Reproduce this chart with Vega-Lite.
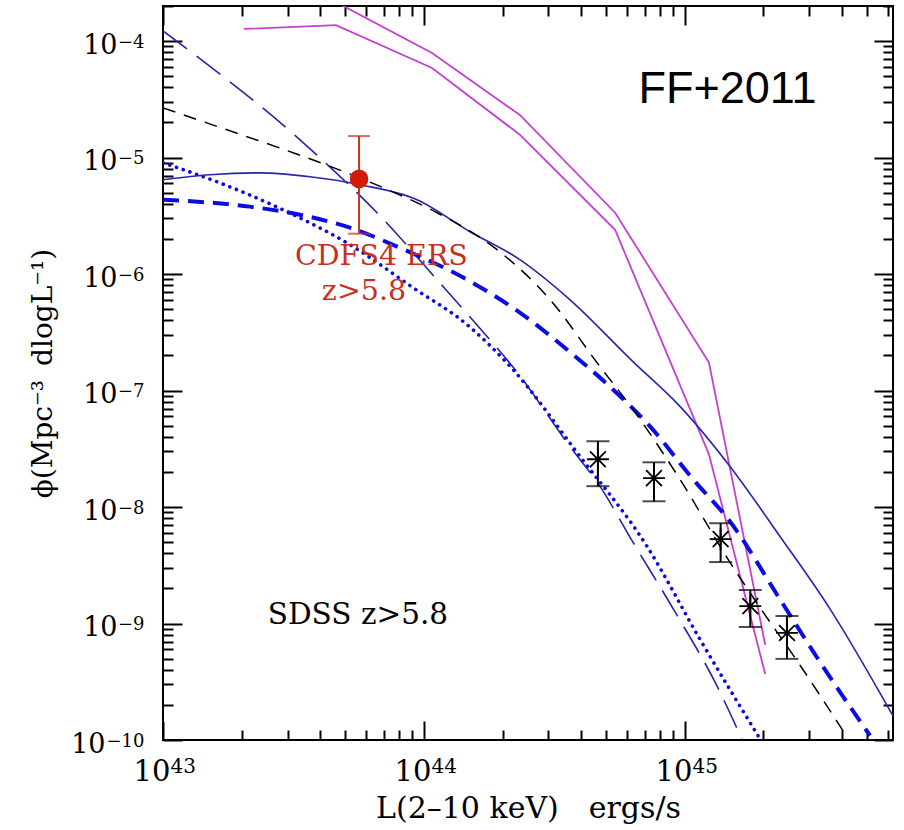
{
  "$schema": "https://vega.github.io/schema/vega-lite/v6.json",
  "width": 730,
  "height": 734,
  "autosize": {"type": "none"},
  "padding": {"left": 163, "top": 6, "right": 11, "bottom": 90},
  "background": "white",
  "config": {
    "view": {"stroke": "black", "strokeWidth": 2},
    "axis": {
      "domain": false,
      "grid": false,
      "labelFont": "DejaVu Serif",
      "labelColor": "black",
      "titleFont": "DejaVu Serif",
      "titleFontSize": 28,
      "titleFontWeight": "normal",
      "titleColor": "black",
      "tickColor": "black",
      "tickWidth": 2,
      "labelOverlap": false,
      "labelFlush": false,
      "labelBound": false
    }
  },
  "datasets": {
    "curves": [
      {"s": "mag1", "L": 4.60e43, "phi": 2.16e-4},
      {"s": "mag1", "L": 1.074e44, "phi": 7.89e-5},
      {"s": "mag1", "L": 2.33e44, "phi": 2.32e-5},
      {"s": "mag1", "L": 5.40e44, "phi": 3.36e-6},
      {"s": "mag1", "L": 1.236e45, "phi": 1.74e-7},
      {"s": "mag1", "L": 2.03e45, "phi": 6.55e-10},

      {"s": "mag2", "L": 2.04e43, "phi": 1.27e-4},
      {"s": "mag2", "L": 4.60e43, "phi": 1.37e-4},
      {"s": "mag2", "L": 1.074e44, "phi": 5.88e-5},
      {"s": "mag2", "L": 2.33e44, "phi": 1.57e-5},
      {"s": "mag2", "L": 5.40e44, "phi": 2.40e-6},
      {"s": "mag2", "L": 1.236e45, "phi": 2.83e-8},
      {"s": "mag2", "L": 2.03e45, "phi": 3.69e-10},

      {"s": "longdash", "L": 1.0e43, "phi": 1.22e-4},
      {"s": "longdash", "L": 3.35e43, "phi": 1.42e-5},
      {"s": "longdash", "L": 4.48e43, "phi": 7.85e-6},
      {"s": "longdash", "L": 6.61e43, "phi": 3.36e-6},
      {"s": "longdash", "L": 1.122e44, "phi": 8.95e-7},
      {"s": "longdash", "L": 1.758e44, "phi": 2.85e-7},
      {"s": "longdash", "L": 2.23e44, "phi": 1.52e-7},
      {"s": "longdash", "L": 3.62e44, "phi": 3.32e-8},
      {"s": "longdash", "L": 4.72e44, "phi": 1.51e-8},
      {"s": "longdash", "L": 6.32e44, "phi": 4.99e-9},
      {"s": "longdash", "L": 9.16e44, "phi": 1.26e-9},
      {"s": "longdash", "L": 1.327e45, "phi": 2.91e-10},
      {"s": "longdash", "L": 1.652e45, "phi": 1.02e-10},

      {"s": "dotted", "L": 1.0e43, "phi": 9.02e-6},
      {"s": "dotted", "L": 1.61e43, "phi": 6.19e-6},
      {"s": "dotted", "L": 2.88e43, "phi": 3.56e-6},
      {"s": "dotted", "L": 5.20e43, "phi": 1.79e-6},
      {"s": "dotted", "L": 9.08e43, "phi": 7.64e-7},
      {"s": "dotted", "L": 1.462e44, "phi": 3.68e-7},
      {"s": "dotted", "L": 2.14e44, "phi": 1.61e-7},
      {"s": "dotted", "L": 3.96e44, "phi": 2.72e-8},
      {"s": "dotted", "L": 7.15e44, "phi": 4.61e-9},
      {"s": "dotted", "L": 1.14e45, "phi": 7.36e-10},
      {"s": "dotted", "L": 1.94e45, "phi": 1.02e-10},

      {"s": "thickdash", "L": 1.0e43, "phi": 4.35e-6},
      {"s": "thickdash", "L": 2.15e43, "phi": 3.79e-6},
      {"s": "thickdash", "L": 3.35e43, "phi": 3.23e-6},
      {"s": "thickdash", "L": 5.20e43, "phi": 2.50e-6},
      {"s": "thickdash", "L": 8.09e43, "phi": 1.68e-6},
      {"s": "thickdash", "L": 1.462e44, "phi": 8.95e-7},
      {"s": "thickdash", "L": 2.33e44, "phi": 4.67e-7},
      {"s": "thickdash", "L": 3.53e44, "phi": 2.25e-7},
      {"s": "thickdash", "L": 5.30e44, "phi": 1.02e-7},
      {"s": "thickdash", "L": 7.35e44, "phi": 4.92e-8},
      {"s": "thickdash", "L": 1.074e45, "phi": 1.73e-8},
      {"s": "thickdash", "L": 1.486e45, "phi": 7.55e-9},
      {"s": "thickdash", "L": 2.31e45, "phi": 1.62e-9},
      {"s": "thickdash", "L": 3.29e45, "phi": 4.68e-10},
      {"s": "thickdash", "L": 5.12e45, "phi": 1.09e-10},

      {"s": "solid", "L": 1.0e43, "phi": 6.44e-6},
      {"s": "solid", "L": 1.514e43, "phi": 7.11e-6},
      {"s": "solid", "L": 2.36e43, "phi": 7.39e-6},
      {"s": "solid", "L": 3.66e43, "phi": 6.84e-6},
      {"s": "solid", "L": 5.69e43, "phi": 5.84e-6},
      {"s": "solid", "L": 9.40e43, "phi": 4.35e-6},
      {"s": "solid", "L": 1.50e44, "phi": 2.31e-6},
      {"s": "solid", "L": 2.33e44, "phi": 1.33e-6},
      {"s": "solid", "L": 3.62e44, "phi": 6.04e-7},
      {"s": "solid", "L": 6.32e44, "phi": 1.77e-7},
      {"s": "solid", "L": 9.57e44, "phi": 7.31e-8},
      {"s": "solid", "L": 1.486e45, "phi": 2.24e-8},
      {"s": "solid", "L": 2.31e45, "phi": 5.62e-9},
      {"s": "solid", "L": 3.60e45, "phi": 1.33e-9},
      {"s": "solid", "L": 6.27e45, "phi": 1.61e-10},

      {"s": "blackdash", "L": 1.0e43, "phi": 2.67e-5},
      {"s": "blackdash", "L": 1.758e43, "phi": 1.73e-5},
      {"s": "blackdash", "L": 3.15e43, "phi": 1.10e-5},
      {"s": "blackdash", "L": 5.07e43, "phi": 7.39e-6},
      {"s": "blackdash", "L": 7.60e43, "phi": 5.08e-6},
      {"s": "blackdash", "L": 1.122e44, "phi": 3.36e-6},
      {"s": "blackdash", "L": 1.905e44, "phi": 1.62e-6},
      {"s": "blackdash", "L": 3.04e44, "phi": 6.04e-7},
      {"s": "blackdash", "L": 4.72e44, "phi": 1.61e-7},
      {"s": "blackdash", "L": 6.32e44, "phi": 6.89e-8},
      {"s": "blackdash", "L": 9.57e44, "phi": 1.73e-8},
      {"s": "blackdash", "L": 1.486e45, "phi": 3.37e-9},
      {"s": "blackdash", "L": 1.99e45, "phi": 1.26e-9},
      {"s": "blackdash", "L": 2.69e45, "phi": 4.78e-10},
      {"s": "blackdash", "L": 4.18e45, "phi": 1.06e-10}
    ],
    "sdss": [
      {"L": 4.64e44, "phi": 2.57e-8, "lo": 1.51e-8, "hi": 3.67e-8},
      {"L": 7.61e44, "phi": 1.77e-8, "lo": 1.12e-8, "hi": 2.42e-8},
      {"L": 1.37e45, "phi": 5.30e-9, "lo": 3.37e-9, "hi": 7.26e-9},
      {"L": 1.78e45, "phi": 1.41e-9, "lo": 9.33e-10, "hi": 1.94e-9},
      {"L": 2.46e45, "phi": 8.30e-10, "lo": 4.97e-10, "hi": 1.16e-9}
    ],
    "cdfs": [
      {"L": 5.64e43, "phi": 6.56e-6, "lo": 2.22e-6, "hi": 1.53e-5}
    ]
  },
  "encoding": {
    "x": {"field": "L", "type": "quantitative", "scale": {"type": "log", "domain": [1e43, 6.27e45], "nice": false}, "axis": null},
    "y": {"field": "phi", "type": "quantitative", "scale": {"type": "log", "domain": [1e-10, 2.0e-4], "nice": false}, "axis": null}
  },
  "layer": [
    {
      "data": {"name": "curves"},
      "transform": [{"filter": "datum.s == 'mag1'"}],
      "mark": {"type": "line", "clip": true, "color": "#c63fd2", "strokeWidth": 1.8},
      "encoding": {
        "x": {
          "field": "L", "type": "quantitative",
          "scale": {"type": "log", "domain": [1e43, 6.27e45], "nice": false},
          "axis": {
            "orient": "bottom",
            "values": [1e43, 1e44, 1e45],
            "ticks": false,
            "tickSize": 0,
            "labelExpr": "'10'",
            "labelFontSize": 29,
            "labelAlign": "right",
            "labelOffset": 7,
            "labelBaseline": "alphabetic",
            "labelPadding": 40,
            "title": "L(2\u201310 keV)\u2003ergs/s",
            "titleFontSize": 30,
            "titleBaseline": "alphabetic",
            "titleY": 77
          }
        },
        "y": {
          "field": "phi", "type": "quantitative",
          "scale": {"type": "log", "domain": [1e-10, 2.0e-4], "nice": false},
          "axis": {
            "orient": "left",
            "values": [1e-10, 1e-9, 1e-8, 1e-7, 1e-6, 1e-5, 1e-4],
            "ticks": false,
            "tickSize": 0,
            "labelExpr": "'10'",
            "labelFontSize": 27,
            "labelAlign": "right",
            "labelBaseline": "alphabetic",
            "labelOffset": 12,
            "labelPadding": {"condition": {"test": "datum.value < 5e-10", "value": 58}, "value": 46},
            "title": "\u03d5(Mpc\u207b\u00b3\u2002dlogL\u207b\u00b9)",
            "titleAngle": -90,
            "titleAlign": "center",
            "titleBaseline": "alphabetic",
            "titleX": -112,
            "titleY": 367
          }
        }
      }
    },
    {
      "data": {"name": "curves"},
      "transform": [{"filter": "datum.s == 'mag2'"}],
      "mark": {"type": "line", "clip": true, "color": "#c63fd2", "strokeWidth": 1.8},
      "encoding": {
        "x": {
          "field": "L", "type": "quantitative",
          "scale": {"type": "log", "domain": [1e43, 6.27e45], "nice": false},
          "axis": {
            "orient": "bottom",
            "values": [1e43, 1e44, 1e45],
            "ticks": false,
            "tickSize": 0,
            "labelExpr": "'' + round(log(datum.value)/LN10)",
            "labelFontSize": 20,
            "labelAlign": "left",
            "labelOffset": 7,
            "labelBaseline": "alphabetic",
            "labelPadding": 32,
            "title": null
          }
        },
        "y": {
          "field": "phi", "type": "quantitative",
          "scale": {"type": "log", "domain": [1e-10, 2.0e-4], "nice": false},
          "axis": {
            "orient": "left",
            "values": [1e-10, 1e-9, 1e-8, 1e-7, 1e-6, 1e-5, 1e-4],
            "ticks": false,
            "tickSize": 0,
            "labelExpr": "'\u2212' + (-round(log(datum.value)/LN10))",
            "labelFontSize": 18,
            "labelAlign": "right",
            "labelBaseline": "alphabetic",
            "labelOffset": 6,
            "labelPadding": 19,
            "title": null
          }
        }
      }
    },
    {
      "data": {"name": "curves"},
      "transform": [{"filter": "datum.s == 'longdash'"}],
      "mark": {"type": "line", "clip": true, "interpolate": "monotone", "color": "#2626a6", "strokeWidth": 1.6, "strokeDash": [30, 12]},
      "encoding": {
        "x": {
          "field": "L", "type": "quantitative",
          "scale": {"type": "log", "domain": [1e43, 6.27e45], "nice": false},
          "axis": {
            "orient": "bottom",
            "values": [1e43, 2e43, 3e43, 4e43, 5e43, 6e43, 7e43, 8e43, 9e43, 1e44, 2e44, 3e44, 4e44, 5e44, 6e44, 7e44, 8e44, 9e44, 1e45, 2e45, 3e45, 4e45, 5e45, 6e45],
            "tickSize": {"condition": {"test": "abs(log(datum.value)/LN10 - round(log(datum.value)/LN10)) < 0.001", "value": -19}, "value": -10},
            "labels": false,
            "title": null
          }
        },
        "y": {
          "field": "phi", "type": "quantitative",
          "scale": {"type": "log", "domain": [1e-10, 2.0e-4], "nice": false},
          "axis": {
            "orient": "left",
            "values": [1e-10, 2e-10, 3e-10, 4e-10, 5e-10, 6e-10, 7e-10, 8e-10, 9e-10, 1e-9, 2e-9, 3e-9, 4e-9, 5e-9, 6e-9, 7e-9, 8e-9, 9e-9, 1e-8, 2e-8, 3e-8, 4e-8, 5e-8, 6e-8, 7e-8, 8e-8, 9e-8, 1e-7, 2e-7, 3e-7, 4e-7, 5e-7, 6e-7, 7e-7, 8e-7, 9e-7, 1e-6, 2e-6, 3e-6, 4e-6, 5e-6, 6e-6, 7e-6, 8e-6, 9e-6, 1e-5, 2e-5, 3e-5, 4e-5, 5e-5, 6e-5, 7e-5, 8e-5, 9e-5, 1e-4, 2e-4],
            "tickSize": {"condition": {"test": "abs(log(datum.value)/LN10 - round(log(datum.value)/LN10)) < 0.001", "value": -19}, "value": -10},
            "labels": false,
            "title": null
          }
        }
      }
    },
    {
      "data": {"name": "curves"},
      "transform": [{"filter": "datum.s == 'dotted'"}],
      "mark": {"type": "line", "clip": true, "interpolate": "monotone", "color": "#0b0be0", "strokeWidth": 3.6, "strokeCap": "round", "strokeDash": [0.1, 7]},
      "encoding": {
        "x": {
          "field": "L", "type": "quantitative",
          "scale": {"type": "log", "domain": [1e43, 6.27e45], "nice": false},
          "axis": {
            "orient": "top",
            "values": [1e43, 2e43, 3e43, 4e43, 5e43, 6e43, 7e43, 8e43, 9e43, 1e44, 2e44, 3e44, 4e44, 5e44, 6e44, 7e44, 8e44, 9e44, 1e45, 2e45, 3e45, 4e45, 5e45, 6e45],
            "tickSize": {"condition": {"test": "abs(log(datum.value)/LN10 - round(log(datum.value)/LN10)) < 0.001", "value": -19}, "value": -10},
            "labels": false,
            "title": null
          }
        },
        "y": {
          "field": "phi", "type": "quantitative",
          "scale": {"type": "log", "domain": [1e-10, 2.0e-4], "nice": false},
          "axis": {
            "orient": "right",
            "values": [1e-10, 2e-10, 3e-10, 4e-10, 5e-10, 6e-10, 7e-10, 8e-10, 9e-10, 1e-9, 2e-9, 3e-9, 4e-9, 5e-9, 6e-9, 7e-9, 8e-9, 9e-9, 1e-8, 2e-8, 3e-8, 4e-8, 5e-8, 6e-8, 7e-8, 8e-8, 9e-8, 1e-7, 2e-7, 3e-7, 4e-7, 5e-7, 6e-7, 7e-7, 8e-7, 9e-7, 1e-6, 2e-6, 3e-6, 4e-6, 5e-6, 6e-6, 7e-6, 8e-6, 9e-6, 1e-5, 2e-5, 3e-5, 4e-5, 5e-5, 6e-5, 7e-5, 8e-5, 9e-5, 1e-4, 2e-4],
            "tickSize": {"condition": {"test": "abs(log(datum.value)/LN10 - round(log(datum.value)/LN10)) < 0.001", "value": -19}, "value": -10},
            "labels": false,
            "title": null
          }
        }
      }
    },
    {
      "data": {"name": "curves"},
      "transform": [{"filter": "datum.s == 'thickdash'"}],
      "mark": {"type": "line", "clip": true, "interpolate": "monotone", "color": "#0b0be6", "strokeWidth": 4, "strokeDash": [16, 9]}
    },
    {
      "data": {"name": "curves"},
      "transform": [{"filter": "datum.s == 'solid'"}],
      "mark": {"type": "line", "clip": true, "interpolate": "monotone", "color": "#2626b0", "strokeWidth": 1.6}
    },
    {
      "data": {"name": "curves"},
      "transform": [{"filter": "datum.s == 'blackdash'"}],
      "mark": {"type": "line", "clip": true, "interpolate": "monotone", "color": "black", "strokeWidth": 1.5, "strokeDash": [13, 9]}
    },
    {
      "data": {"name": "sdss"},
      "mark": {"type": "rule", "color": "black", "strokeWidth": 2},
      "encoding": {
        "y": {"field": "lo", "type": "quantitative", "scale": {"type": "log", "domain": [1e-10, 2.0e-4], "nice": false}, "axis": null},
        "y2": {"field": "hi"}
      }
    },
    {
      "data": {"name": "sdss"},
      "mark": {"type": "tick", "orient": "horizontal", "color": "black", "size": 23, "thickness": 2},
      "encoding": {
        "y": {"field": "lo", "type": "quantitative", "scale": {"type": "log", "domain": [1e-10, 2.0e-4], "nice": false}, "axis": null}
      }
    },
    {
      "data": {"name": "sdss"},
      "mark": {"type": "tick", "orient": "horizontal", "color": "black", "size": 23, "thickness": 2},
      "encoding": {
        "y": {"field": "hi", "type": "quantitative", "scale": {"type": "log", "domain": [1e-10, 2.0e-4], "nice": false}, "axis": null}
      }
    },
    {
      "data": {"name": "sdss"},
      "mark": {"type": "point", "shape": "M-1,0L1,0M0,-1L0,1M-0.72,-0.72L0.72,0.72M-0.72,0.72L0.72,-0.72", "filled": false, "stroke": "black", "strokeWidth": 1.8, "size": 484, "opacity": 1}
    },
    {
      "data": {"name": "cdfs"},
      "mark": {"type": "rule", "color": "#c8301e", "strokeWidth": 2},
      "encoding": {
        "y": {"field": "lo", "type": "quantitative", "scale": {"type": "log", "domain": [1e-10, 2.0e-4], "nice": false}, "axis": null},
        "y2": {"field": "hi"}
      }
    },
    {
      "data": {"name": "cdfs"},
      "mark": {"type": "tick", "orient": "horizontal", "color": "#c8301e", "size": 22, "thickness": 2},
      "encoding": {
        "y": {"field": "lo", "type": "quantitative", "scale": {"type": "log", "domain": [1e-10, 2.0e-4], "nice": false}, "axis": null}
      }
    },
    {
      "data": {"name": "cdfs"},
      "mark": {"type": "tick", "orient": "horizontal", "color": "#c8301e", "size": 22, "thickness": 2},
      "encoding": {
        "y": {"field": "hi", "type": "quantitative", "scale": {"type": "log", "domain": [1e-10, 2.0e-4], "nice": false}, "axis": null}
      }
    },
    {
      "data": {"name": "cdfs"},
      "mark": {"type": "point", "shape": "circle", "filled": true, "color": "#d21a0a", "size": 346, "opacity": 1}
    },
    {
      "data": {"values": [{"label": "FF+2011", "L": 1.456e45, "phi": 2.94e-5}]},
      "mark": {"type": "text", "font": "Liberation Sans", "fontSize": 45, "align": "center", "baseline": "alphabetic", "color": "black"},
      "encoding": {"text": {"field": "label"}}
    },
    {
      "data": {"values": [{"label": "SDSS z>5.8", "L": 2.52e43, "phi": 9.9e-10}]},
      "mark": {"type": "text", "font": "DejaVu Serif", "fontSize": 29.5, "align": "left", "baseline": "alphabetic", "color": "black"},
      "encoding": {"text": {"field": "label"}}
    },
    {
      "data": {"values": [
        {"label": "CDFS4 ERS", "L": 6.87e43, "phi": 1.205e-6},
        {"label": "z>5.8", "L": 5.89e43, "phi": 6.04e-7}
      ]},
      "mark": {"type": "text", "font": "DejaVu Serif", "fontSize": 28.5, "align": "center", "baseline": "alphabetic", "color": "#c8301e"},
      "encoding": {"text": {"field": "label"}}
    }
  ],
  "resolve": {"axis": {"x": "independent", "y": "independent"}}
}
